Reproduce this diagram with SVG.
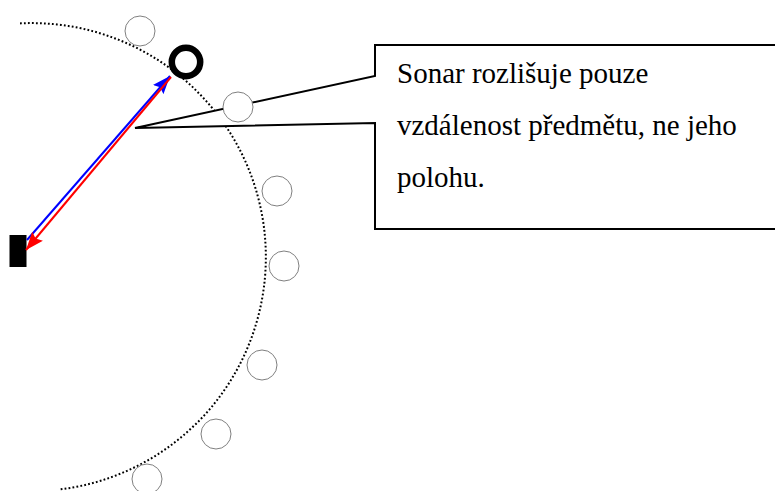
<svg xmlns="http://www.w3.org/2000/svg" width="775" height="491" viewBox="0 0 775 491">
<style>
.ghost{fill:#fff;stroke:#808080;stroke-width:1}
.arc{fill:none;stroke:#000;stroke-width:2;stroke-dasharray:1.8 2.2}
.call{fill:#fff;stroke:#000;stroke-width:2}
.txt{font-size:29px;fill:#000}
</style>
<defs>
<marker id="mb" markerUnits="userSpaceOnUse" markerWidth="20" markerHeight="16" refX="18" refY="8" orient="auto"><path d="M0,1 L18,8 L0,15 L3,8 z" fill="#0000ff"/></marker>
<marker id="mr" markerUnits="userSpaceOnUse" markerWidth="20" markerHeight="16" refX="18" refY="8" orient="auto"><path d="M0,1 L18,8 L0,15 L3,8 z" fill="#ff0000"/></marker>
</defs>
<rect width="775" height="491" fill="#fff"/>
<path class="arc" d="M20,23.4 A234,234 0 0 1 60,489.4"/>
<g id="callout">
<path class="call" d="M777,45 H375 V76 L135,128 L375,123 V229 H777 Z"/>
<g font-family="'Liberation Serif', 'DejaVu Serif', serif">
<text class="txt" x="397" y="83">Sonar rozlišuje pouze</text>
<text class="txt" x="397" y="135">vzdálenost předmětu, ne jeho</text>
<text class="txt" x="397" y="187">polohu.</text>
</g>
</g>
<g id="ghosts">
<circle id="g1" class="ghost" cx="140" cy="31" r="15"/>
<circle id="g2" class="ghost" cx="238" cy="107" r="15"/>
<circle id="g3" class="ghost" cx="277" cy="191" r="15"/>
<circle id="g4" class="ghost" cx="284" cy="266" r="15"/>
<circle id="g5" class="ghost" cx="262" cy="365" r="15"/>
<circle id="g6" class="ghost" cx="216" cy="434" r="15"/>
<circle id="g7" class="ghost" cx="147" cy="479" r="15"/>
</g>
<g id="target"><circle cx="186" cy="62" r="14.2" fill="none" stroke="#000" stroke-width="6.5"/></g>
<g id="sensor"><rect x="9.5" y="235" width="17" height="32" fill="#000"/></g>
<g id="connectors">
<line x1="27" y1="240" x2="170" y2="76" stroke="#0000ff" stroke-width="2" marker-end="url(#mb)"/>
<line x1="171" y1="77" x2="26" y2="250" stroke="#ff0000" stroke-width="2" marker-end="url(#mr)"/>
</g>
</svg>
